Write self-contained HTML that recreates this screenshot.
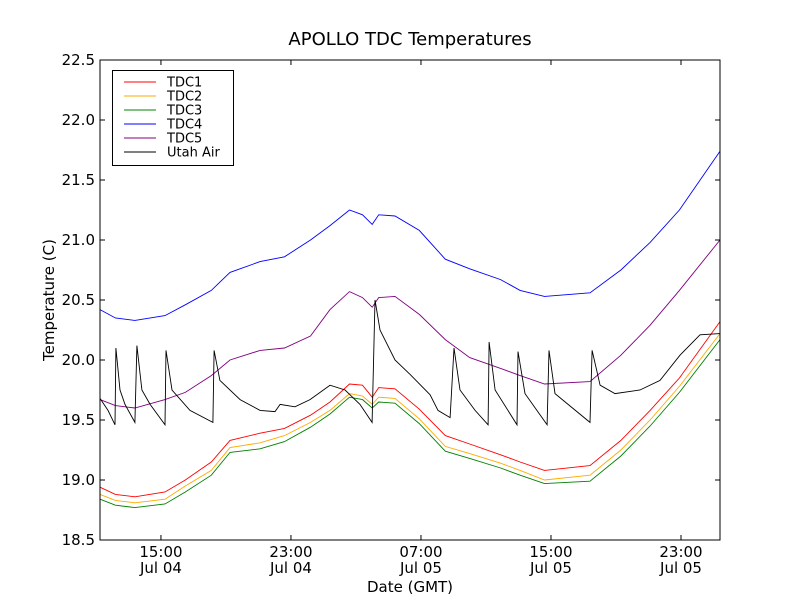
<!DOCTYPE html>
<html><head><meta charset="utf-8"><style>
body{margin:0;background:#fff;}
svg text{font-family:"DejaVu Sans","Liberation Sans",sans-serif;}
</style></head><body>
<svg id="chart" width="800" height="600" xmlns="http://www.w3.org/2000/svg">
<rect width="800" height="600" fill="#fff"/>
<text x="410" y="45" font-size="18" text-anchor="middle">APOLLO TDC Temperatures</text>
<g id="plot"></g>
<text x="410" y="592" font-size="15" text-anchor="middle">Date (GMT)</text>
<text transform="translate(54,300) rotate(-90)" font-size="15" text-anchor="middle">Temperature (C)</text>
</svg>
<script>
const tGrid=[11.25,12.2,13.4,15.25,16.5,18.1,19.25,21.1,22.6,24.2,25.4,26.6,27.4,28.0,28.4,29.4,30.9,32.5,34.0,35.9,37.1,38.6,41.4,43.3,45.1,46.9,49.4];
const tdc1=[18.94,18.88,18.86,18.9,19.0,19.15,19.33,19.39,19.43,19.54,19.65,19.8,19.79,19.69,19.77,19.76,19.59,19.37,19.3,19.21,19.15,19.08,19.12,19.33,19.58,19.85,20.32];
const tdc2=[18.88,18.83,18.81,18.84,18.95,19.08,19.27,19.31,19.37,19.48,19.58,19.72,19.7,19.63,19.69,19.68,19.51,19.28,19.22,19.14,19.08,19.0,19.04,19.25,19.5,19.78,20.22];
const tdc3=[18.84,18.79,18.77,18.8,18.9,19.04,19.23,19.26,19.32,19.44,19.55,19.69,19.67,19.6,19.65,19.64,19.47,19.24,19.18,19.1,19.04,18.97,18.99,19.2,19.45,19.73,20.17];
const tdc4=[20.42,20.35,20.33,20.37,20.46,20.58,20.73,20.82,20.86,21.0,21.12,21.25,21.21,21.13,21.21,21.2,21.08,20.84,20.76,20.67,20.58,20.53,20.56,20.75,20.98,21.25,21.74];
const tdc5=[19.67,19.62,19.6,19.67,19.73,19.87,20.0,20.08,20.1,20.2,20.42,20.57,20.52,20.44,20.52,20.53,20.38,20.17,20.02,19.93,19.87,19.8,19.82,20.04,20.29,20.58,21.0];
const airT=[11.25,11.74,12.17,12.23,12.48,12.79,13.4,13.52,13.83,14.33,15.25,15.31,15.68,16.79,18.2,18.27,18.63,19.87,21.1,22.02,22.33,23.25,24.17,25.4,26.33,27.25,27.99,28.17,28.48,29.4,30.33,31.56,32.05,32.79,33.03,33.4,34.33,35.13,35.19,35.56,36.91,36.97,37.4,38.76,38.88,39.25,41.4,41.53,42.02,42.94,44.48,45.71,46.94,48.17,49.4];
const airV=[19.68,19.58,19.46,20.1,19.75,19.63,19.48,20.12,19.75,19.63,19.46,20.08,19.75,19.58,19.48,20.08,19.83,19.67,19.58,19.57,19.63,19.61,19.67,19.79,19.75,19.63,19.48,20.5,20.25,20.0,19.88,19.71,19.58,19.52,20.1,19.75,19.58,19.46,20.15,19.75,19.46,20.07,19.72,19.46,20.08,19.72,19.48,20.08,19.79,19.72,19.75,19.83,20.04,20.21,20.22];
const yTicks=[18.5,19.0,19.5,20.0,20.5,21.0,21.5,22.0,22.5];
const xTicks=[15,23,31,39,47];
const xTickLabels=[["15:00","Jul 04"],["23:00","Jul 04"],["07:00","Jul 05"],["15:00","Jul 05"],["23:00","Jul 05"]];
const series=[["TDC1",tdc1,"#ff0000"],["TDC2",tdc2,"#ffaa00"],["TDC3",tdc3,"#008000"],["TDC4",tdc4,"#0000ff"],["TDC5",tdc5,"#800080"]];

const L=100,R=720,T=60,B=540,t0=11.25,t1=49.4,y0=18.5,y1=22.5;
const X=t=>L+(t-t0)/(t1-t0)*(R-L);
const Y=v=>B-(v-y0)/(y1-y0)*(B-T);
const NS="http://www.w3.org/2000/svg";
const g=document.getElementById('plot');
function mk(tag,attrs,parent){const e=document.createElementNS(NS,tag);for(const k in attrs)e.setAttribute(k,attrs[k]);(parent||g).appendChild(e);return e;}
function line(ts,vs,color,name){
  const p=mk('polyline',{points:ts.map((t,i)=>X(t).toFixed(1)+','+Y(vs[i]).toFixed(1)).join(' '),fill:'none',stroke:color,'stroke-width':0.9});
  
  
}
series.forEach(s=>line(tGrid,s[1],s[2],'series-'+s[0].toLowerCase()));
line(airT,airV,'#000','series-utah-air');
const fr=mk('rect',{x:L,y:T,width:R-L,height:B-T,fill:'none',stroke:'#000','stroke-width':1});


yTicks.forEach(v=>{
  const y=Y(v);
  mk('line',{x1:L,x2:L+5,y1:y,y2:y,stroke:'#000'});
  mk('line',{x1:R,x2:R-5,y1:y,y2:y,stroke:'#000'});
  const tx=mk('text',{x:L-5,y:y+5,'font-size':15,'text-anchor':'end'});tx.textContent=v.toFixed(1);
  
  
});
xTicks.forEach((t,i)=>{
  const x=X(t);
  mk('line',{x1:x,x2:x,y1:B,y2:B-5,stroke:'#000'});
  mk('line',{x1:x,x2:x,y1:T,y2:T+5,stroke:'#000'});
  const a=mk('text',{x:x,y:B+17,'font-size':15,'text-anchor':'middle'});a.textContent=xTickLabels[i][0];
  
  
  const b=mk('text',{x:x,y:B+33,'font-size':15,'text-anchor':'middle'});b.textContent=xTickLabels[i][1];
  
  
});
const lg=mk('g',{});


mk('rect',{x:112.5,y:70.5,width:121,height:95,fill:'#fff',stroke:'#000','stroke-width':1},lg);
const entries=series.map(s=>[s[0],s[2]]).concat([["Utah Air","#000"]]);
entries.forEach((e,i)=>{
  const y=82+i*14;
  mk('line',{x1:124,x2:156,y1:y,y2:y,stroke:e[1],'stroke-width':1},lg);
  const tx=mk('text',{x:167,y:y+4.5,'font-size':13},lg);tx.textContent=e[0];
  
  
});
</script>
</body></html>
